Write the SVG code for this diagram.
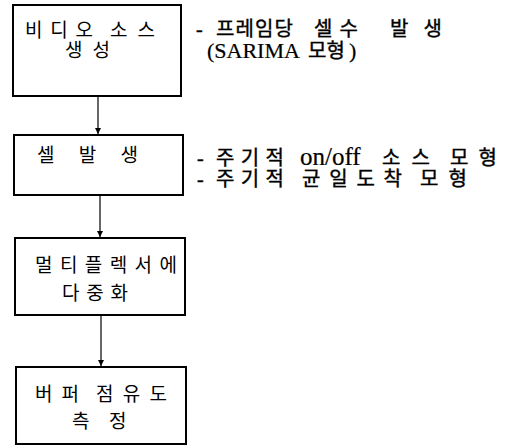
<svg xmlns="http://www.w3.org/2000/svg" width="507" height="446" viewBox="0 0 507 446">
<style>
.box{fill:#fff;stroke:#000;stroke-width:2}
.t{font-family:"Liberation Serif","Noto Sans CJK KR",serif;font-size:19px;fill:#000}
.n{font-size:20px;stroke:#000;stroke-width:0.4}
.l{font-family:"Liberation Serif",serif;font-size:22px;stroke:#000;stroke-width:0.2}
.c{stroke:#000;stroke-width:1.2;fill:none}
</style>
<defs>
<marker id="ah" markerWidth="8" markerHeight="8" refX="6" refY="4" orient="auto" markerUnits="userSpaceOnUse">
<path d="M0,1 L6,4 L0,7 Z" fill="#000"/>
</marker>
</defs>
<rect width="507" height="446" fill="#fff"/>
<g id="connectors">
<line class="c" x1="98" y1="96" x2="98" y2="134" marker-end="url(#ah)"/>
<line class="c" x1="100" y1="195" x2="100" y2="237" marker-end="url(#ah)"/>
<line class="c" x1="101" y1="315" x2="101" y2="366" marker-end="url(#ah)"/>
</g>
<g id="n1">
<rect class="box" x="13" y="5" width="168" height="91"/>
<text class="t" y="37"><tspan x="25" textLength="68" lengthAdjust="spacing">비디오</tspan><tspan x="110" textLength="45" lengthAdjust="spacing">소스</tspan></text>
<text class="t" x="65" y="57" textLength="45" lengthAdjust="spacing">생성</text>
</g>
<g id="n1note">
<text class="t n" y="36"><tspan x="196">-</tspan><tspan x="216" textLength="77" lengthAdjust="spacing">프레임당</tspan><tspan x="314" textLength="44" lengthAdjust="spacing">셀수</tspan><tspan x="390" textLength="52" lengthAdjust="spacing">발생</tspan></text>
<text class="t n" y="58"><tspan class="l" x="207">(SARIMA</tspan><tspan x="308">모형</tspan><tspan class="l" x="349">)</tspan></text>
</g>
<g id="n2">
<rect class="box" x="14" y="135" width="169" height="60"/>
<text class="t" x="37" y="162" textLength="101" lengthAdjust="spacing">셀 발 생</text>
</g>
<g id="n2note">
<text class="t n" y="165"><tspan x="197">-</tspan><tspan x="216" textLength="68" lengthAdjust="spacing">주기적</tspan><tspan class="l" x="300" style="font-size:25px">on/off</tspan><tspan x="382" textLength="48" lengthAdjust="spacing">소스</tspan><tspan x="450" textLength="47" lengthAdjust="spacing">모형</tspan></text>
<text class="t n" y="186"><tspan x="197">-</tspan><tspan x="216" textLength="68" lengthAdjust="spacing">주기적</tspan><tspan x="302" textLength="100" lengthAdjust="spacing">균일도착</tspan><tspan x="420" textLength="47" lengthAdjust="spacing">모형</tspan></text>
</g>
<g id="n3">
<rect class="box" x="15" y="238" width="170" height="77"/>
<text class="t" x="35" y="272" textLength="142" lengthAdjust="spacing">멀티플렉서에</text>
<text class="t" x="62" y="300" textLength="66" lengthAdjust="spacing">다중화</text>
</g>
<g id="n4">
<rect class="box" x="16" y="367" width="170" height="77"/>
<text class="t" y="401"><tspan x="35" textLength="44" lengthAdjust="spacing">버퍼</tspan><tspan x="96" textLength="71" lengthAdjust="spacing">점유도</tspan></text>
<text class="t" y="428"><tspan x="72">측</tspan><tspan x="109">정</tspan></text>
</g>
</svg>
